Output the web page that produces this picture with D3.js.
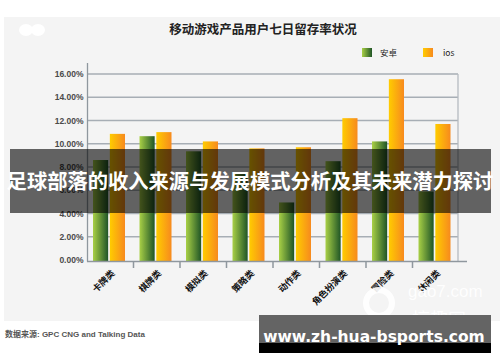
<!DOCTYPE html>
<html>
<head>
<meta charset="utf-8">
<script src="https://cdn.jsdelivr.net/npm/d3@7"></script>
<style>
  body { margin: 0; background: #fff; }
  svg { display: block; }
</style>
</head>
<body>
<div id="chart"></div>
<script>
// 数据
const categories = ['卡牌类', '棋牌类', '模拟类', '策略类', '动作类', '角色扮演类', '冒险类', '休闲类'];
const seriesNames = ['安卓', 'ios'];
const androidValues = [8.6, 10.65, 9.35, 7.55, 4.95, 8.5, 10.2, 5.9];
const iosValues = [10.85, 11.0, 10.2, 9.6, 9.7, 12.2, 15.55, 11.7];
const yTicks = [0, 2, 4, 6, 8, 10, 12, 14, 16];

const width = 500, height = 362;
const svg = d3.select('#chart').append('svg')
  .attr('width', width)
  .attr('height', height);

const defs = svg.append('defs');
function grad(id, c1, c2) {
  const g = defs.append('linearGradient').attr('id', id)
    .attr('x1', '0%').attr('x2', '100%').attr('y1', '0%').attr('y2', '0%');
  g.append('stop').attr('offset', '0%').attr('stop-color', c1);
  g.append('stop').attr('offset', '100%').attr('stop-color', c2);
}
grad('gGreen', '#a9d046', '#1f5526');
grad('gOrange', '#ffcc00', '#f78a1e');

// 背景面板
svg.append('rect')
  .attr('x', 4).attr('y', 17)
  .attr('width', 496).attr('height', 304)
  .attr('fill', '#f4f4f4');

// 左上角白色遮挡
svg.append('ellipse').attr('cx', 26).attr('cy', 30).attr('rx', 7).attr('ry', 6).attr('fill', '#fff');
svg.append('ellipse').attr('cx', 38).attr('cy', 30).attr('rx', 7).attr('ry', 6).attr('fill', '#fff');

// 标题
svg.append('text')
  .attr('x', 263).attr('y', 34)
  .attr('text-anchor', 'middle')
  .style('font-family', '"Noto Sans CJK SC", sans-serif')
  .style('font-weight', 'bold')
  .style('font-size', '12.5px')
  .attr('fill', '#222')
  .text('移动游戏产品用户七日留存率状况');

// 比例尺
const x = d3.scaleBand().domain(categories).range([87, 459]);
const xs = d3.scaleBand().domain(seriesNames).range([6, 38]).paddingInner(0.1);
const y = d3.scaleLinear().domain([0, 16]).range([260, 74]);

const plotRight = 458;

// 网格线
svg.append('g').selectAll('line')
  .data(yTicks.filter(d => d > 0))
  .enter().append('line')
  .attr('x1', 87).attr('x2', plotRight)
  .attr('y1', d => y(d)).attr('y2', d => y(d))
  .attr('stroke', '#a7aeb5')
  .attr('stroke-width', 1.3);

// 右边框
svg.append('line')
  .attr('x1', plotRight).attr('x2', plotRight)
  .attr('y1', y(16)).attr('y2', y(0) + 1)
  .attr('stroke', '#b5bbc1').attr('stroke-width', 1.3);

// Y 轴
const yAxis = svg.append('g')
  .attr('transform', 'translate(87.5,0)')
  .call(d3.axisLeft(y).tickValues(yTicks).tickSize(0).tickPadding(4)
    .tickFormat(d => d.toFixed(2) + '%'));
yAxis.select('.domain').remove();
yAxis.selectAll('text')
  .style('font-family', '"Liberation Sans", Arial, sans-serif')
  .style('font-weight', 'bold')
  .style('font-size', '8.5px')
  .attr('fill', '#4a4a4a');
svg.append('line')
  .attr('x1', 87.5).attr('x2', 87.5)
  .attr('y1', 63).attr('y2', y(0) + 1.5)
  .attr('stroke', '#8f979e').attr('stroke-width', 1.3);

// 柱子
const rows = categories.map((c, i) => ({ cat: c, vals: [androidValues[i], iosValues[i]] }));
const groups = svg.append('g').selectAll('g')
  .data(rows)
  .enter().append('g')
  .attr('transform', d => `translate(${x(d.cat)},0)`);
groups.selectAll('rect')
  .data(d => d.vals.map((v, j) => ({ key: seriesNames[j], v: v })))
  .enter().append('rect')
  .attr('x', d => xs(d.key))
  .attr('width', xs.bandwidth())
  .attr('y', d => y(d.v))
  .attr('height', d => y(0) + 1 - y(d.v))
  .attr('fill', d => d.key === '安卓' ? 'url(#gGreen)' : 'url(#gOrange)');

// X 轴
svg.append('line')
  .attr('x1', 87).attr('x2', 467)
  .attr('y1', y(0) + 1.5).attr('y2', y(0) + 1.5)
  .attr('stroke', '#8f979e').attr('stroke-width', 1.5);
svg.append('g').selectAll('line')
  .data(categories.slice(1))
  .enter().append('line')
  .attr('x1', d => x(d)).attr('x2', d => x(d))
  .attr('y1', y(0) + 1.5).attr('y2', y(0) + 8)
  .attr('stroke', '#8f979e').attr('stroke-width', 1.5);

svg.append('g').selectAll('text')
  .data(categories)
  .enter().append('text')
  .attr('transform', d => `translate(${x(d) + x.bandwidth() / 2 + 5},274) rotate(-45)`)
  .attr('text-anchor', 'end')
  .style('font-family', '"Noto Sans CJK SC", sans-serif')
  .style('font-weight', 'bold')
  .style('font-size', '9px')
  .attr('fill', '#111')
  .text(d => d);

// 图例
const legend = svg.append('g');
const legendItems = [
  { name: '安卓', fill: 'url(#gGreen)', x: 362, tx: 380 },
  { name: 'ios', fill: 'url(#gOrange)', x: 423, tx: 443 }
];
legendItems.forEach(it => {
  legend.append('rect').attr('x', it.x).attr('y', 48)
    .attr('width', 10).attr('height', 9).attr('fill', it.fill);
  legend.append('text').attr('x', it.tx).attr('y', 56)
    .style('font-family', '"Noto Sans CJK SC", sans-serif')
    .style('font-size', '8.5px')
    .attr('fill', '#222')
    .text(it.name);
});

// 水印
svg.append('circle').attr('cx', 379).attr('cy', 303).attr('r', 13)
  .attr('fill', 'none').attr('stroke', '#fff').attr('stroke-width', 6).attr('opacity', 0.9);
svg.append('text').attr('x', 408).attr('y', 297)
  .style('font-family', '"Liberation Sans", Arial, sans-serif')
  .style('font-size', '17px')
  .attr('fill', '#fff').attr('opacity', 0.95)
  .text('gao7.com');
svg.append('text').attr('x', 412).attr('y', 326)
  .style('font-family', '"Noto Sans CJK SC", sans-serif')
  .style('font-size', '18px')
  .attr('fill', '#fff').attr('opacity', 0.9)
  .text('搞趣网');

// 数据来源
svg.append('text')
  .attr('x', 5).attr('y', 337)
  .style('font-family', '"Liberation Sans", "Noto Sans CJK SC", sans-serif')
  .style('font-weight', 'bold')
  .style('font-size', '8px')
  .attr('fill', '#555')
  .text('数据来源: GPC CNG and Talking Data');

// 中间覆盖标题条
svg.append('rect')
  .attr('x', 10).attr('y', 149)
  .attr('width', 481).attr('height', 64)
  .attr('fill', 'rgba(0,0,0,0.6)');
svg.append('text')
  .attr('x', 250).attr('y', 189)
  .attr('text-anchor', 'middle')
  .style('font-family', '"Noto Sans CJK SC", sans-serif')
  .style('font-weight', 'bold')
  .style('font-size', '20.3px')
  .attr('fill', '#fff')
  .text('足球部落的收入来源与发展模式分析及其未来潜力探讨');

// 右下角网址
svg.append('rect')
  .attr('x', 259).attr('y', 315)
  .attr('width', 232).attr('height', 38)
  .attr('fill', '#646464');
svg.append('rect')
  .attr('x', 259).attr('y', 343)
  .attr('width', 232).attr('height', 10)
  .attr('fill', '#000');
svg.append('text')
  .attr('x', 374).attr('y', 342)
  .attr('text-anchor', 'middle')
  .style('font-family', '"DejaVu Sans", sans-serif')
  .style('font-weight', 'bold')
  .style('font-size', '15.5px')
  .attr('fill', '#fff')
  .text('www.zh-hua-bsports.com');
</script>
</body>
</html>
